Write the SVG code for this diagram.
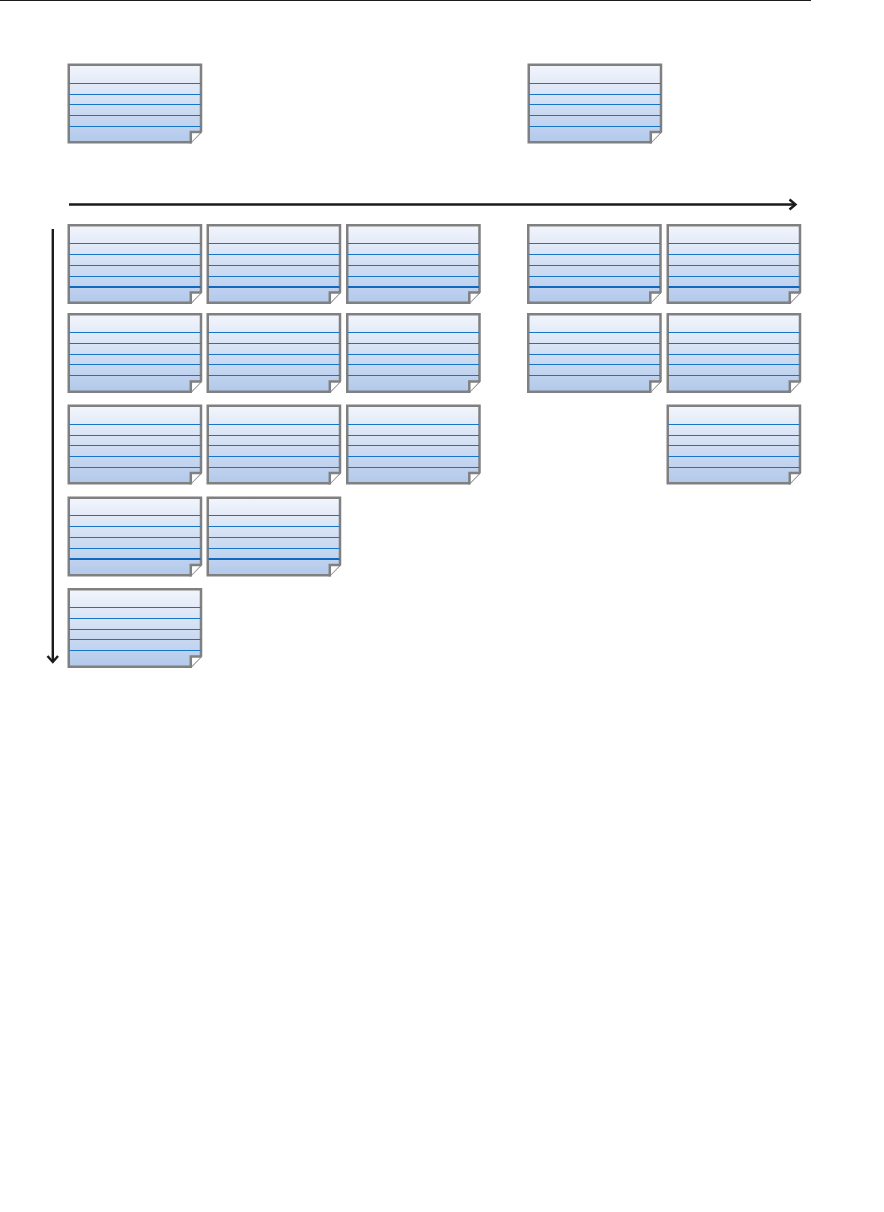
<svg xmlns="http://www.w3.org/2000/svg" width="884" height="1212" viewBox="0 0 884 1212">
<style>
.l{stroke:#1874c4;stroke-width:1;fill:none}
.t{stroke:#1268bd;stroke-width:2;fill:none}
.a{stroke:#1c1a1a;stroke-width:2.4;fill:none}
</style>
<defs>
<linearGradient id="g" x1="0" y1="0" x2="0" y2="1"><stop offset="0" stop-color="#f2f5fc"/><stop offset="1" stop-color="#b2c9eb"/></linearGradient>
<g id="card">
<path d="M1.250,1.250H133.500V68L123,78.800H1.250Z" fill="url(#g)" stroke="#808080" stroke-width="2.500"/>
</g>
<g id="fold">
<path d="M123,68.500H133.800L123,79.500Z" fill="#fff"/>
<path d="M134,68.500L123.500,79.500" stroke="#a8a8a8" stroke-width="1" fill="none"/>
<path d="M134,68.500H123.300V80" stroke="#808080" stroke-width="2.500" fill="none"/>
</g>
<path id="p0" class="l" d="M2,20H133M2,31H133M2,41H133M2,52H133M2,63H133"/>
<g id="p1"><path class="l" d="M2,19.500H133M2,30.500H133M2,41.500H133M2,52.500H133"/><path class="t" d="M2,63H133"/></g>
<path id="p2" class="l" d="M2,19.500H133M2,30.500H133M2,41.500H133M2,51.500H133M2,62.500H133"/>
<path id="p3" class="l" d="M2,20H133M2,31H133M2,41H133M2,52H133M2,63H133"/>
<g id="p4"><path class="l" d="M2,19H133M2,30H133M2,41H133M2,52H133"/><path class="t" d="M2,62.500H133"/></g>
<path id="p5" class="l" d="M2,19.500H133M2,30.500H133M2,41.500H133M2,51.500H133M2,62.500H133"/>
</defs>
<rect width="884" height="1212" fill="#fff"/>
<path d="M0,0.500H811" stroke="#1c1a1a" stroke-width="1"/>
<g id="connectors">
<path class="a" d="M69,204.500H795"/>
<path class="a" d="M789.500,199.500L795.500,204.500L789.500,209.500"/>
<path class="a" d="M52.800,229V662"/>
<path class="a" d="M47.500,656L52.800,662L58,656"/>
</g>
<g id="n0-0" transform="translate(67.500,63.500)"><use href="#card"/><use href="#p0"/><use href="#fold"/></g>
<g id="n0-3" transform="translate(527.500,63.500)"><use href="#card"/><use href="#p0"/><use href="#fold"/></g>
<g id="n1-0" transform="translate(67.500,224)"><use href="#card"/><use href="#p1"/><use href="#fold"/></g>
<g id="n1-1" transform="translate(206.500,224)"><use href="#card"/><use href="#p1"/><use href="#fold"/></g>
<g id="n1-2" transform="translate(346,224)"><use href="#card"/><use href="#p1"/><use href="#fold"/></g>
<g id="n1-3" transform="translate(527,224)"><use href="#card"/><use href="#p1"/><use href="#fold"/></g>
<g id="n1-4" transform="translate(666.500,224)"><use href="#card"/><use href="#p1"/><use href="#fold"/></g>
<g id="n2-0" transform="translate(67.500,313)"><use href="#card"/><use href="#p2"/><use href="#fold"/></g>
<g id="n2-1" transform="translate(206.500,313)"><use href="#card"/><use href="#p2"/><use href="#fold"/></g>
<g id="n2-2" transform="translate(346,313)"><use href="#card"/><use href="#p2"/><use href="#fold"/></g>
<g id="n2-3" transform="translate(527,313)"><use href="#card"/><use href="#p2"/><use href="#fold"/></g>
<g id="n2-4" transform="translate(666.500,313)"><use href="#card"/><use href="#p2"/><use href="#fold"/></g>
<g id="n3-0" transform="translate(67.500,404.500)"><use href="#card"/><use href="#p3"/><use href="#fold"/></g>
<g id="n3-1" transform="translate(206.500,404.500)"><use href="#card"/><use href="#p3"/><use href="#fold"/></g>
<g id="n3-2" transform="translate(346,404.500)"><use href="#card"/><use href="#p3"/><use href="#fold"/></g>
<g id="n3-4" transform="translate(666.500,404.500)"><use href="#card"/><use href="#p3"/><use href="#fold"/></g>
<g id="n4-0" transform="translate(67.500,496.500)"><use href="#card"/><use href="#p4"/><use href="#fold"/></g>
<g id="n4-1" transform="translate(206.500,496.500)"><use href="#card"/><use href="#p4"/><use href="#fold"/></g>
<g id="n5-0" transform="translate(67.500,588)"><use href="#card"/><use href="#p5"/><use href="#fold"/></g>
</svg>
